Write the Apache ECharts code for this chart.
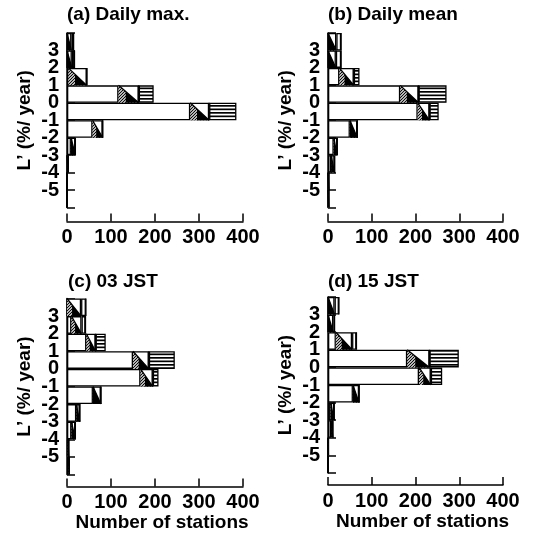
<!DOCTYPE html>
<html><head><meta charset="utf-8">
<script src="https://cdn.jsdelivr.net/npm/echarts@6/dist/echarts.min.js"></script>
<style>html,body{margin:0;padding:0;background:#fff}#c{width:533px;height:535px}</style>
</head><body><div id="c"></div>
<script>
// L' classes (bins between the y ticks), top to bottom
const bins = ['3 to 4','2 to 3','1 to 2','0 to 1','-1 to 0','-2 to -1','-3 to -2','-4 to -3','-5 to -4','-6 to -5'];
const yTickLabels = ['3','2','1','0','-1','-2','-3','-4','-5'];
const xTickLabels = ['0','100','200','300','400'];
const titles = ['(a) Daily max.','(b) Daily mean','(c) 03 JST','(d) 15 JST'];
const yName = 'L\u2019 (%/ year)';
const xName = 'Number of stations';

// (a) Daily max.
const aWhite   = [0, 0, 3, 117, 280, 58, 9, 0, 0, 0];
const aDiag    = [10, 11, 42, 46, 43, 23, 10, 3, 0, 0];
const aWhite2  = [5, 6, 0, 0, 0, 0, 0, 0, 0, 0];
const aStripes = [0, 0, 0, 34, 62, 0, 0, 0, 0, 0];
// (b) Daily mean
const bWhite   = [0, 0, 26, 165, 205, 50, 13, 7, 0, 0];
const bDiag    = [19, 18, 33, 42, 27, 17, 8, 8, 2, 2];
const bWhite2  = [11, 12, 0, 0, 0, 0, 0, 0, 0, 0];
const bStripes = [0, 0, 13, 64, 21, 0, 0, 0, 0, 0];
// (c) 03 JST
const cWhite   = [0, 10, 44, 150, 167, 59, 21, 10, 2, 3];
const cDiag    = [32, 23, 21, 36, 28, 18, 8, 9, 2, 2];
const cWhite2  = [11, 9, 0, 0, 0, 0, 0, 0, 0, 0];
const cStripes = [0, 0, 23, 59, 13, 0, 0, 0, 0, 0];
// (d) 15 JST
const dWhite   = [0, 0, 18, 181, 208, 57, 6, 7, 0, 0];
const dDiag    = [15, 12, 37, 51, 27, 14, 8, 4, 1, 0];
const dWhite2  = [10, 3, 10, 0, 0, 0, 0, 0, 0, 0];
const dStripes = [0, 0, 0, 67, 26, 0, 0, 0, 0, 0];

const panels = [
  {white:aWhite, diag:aDiag, white2:aWhite2, stripes:aStripes},
  {white:bWhite, diag:bDiag, white2:bWhite2, stripes:bStripes},
  {white:cWhite, diag:cDiag, white2:cWhite2, stripes:cStripes},
  {white:dWhite, diag:dDiag, white2:dWhite2, stripes:dStripes}
];

// layout
const grids = [
  {left:67, top:33, width:176, height:174.5},
  {left:328, top:33, width:175, height:174.5},
  {left:67, top:298.5, width:176, height:176},
  {left:328, top:297, width:175, height:176}
];
const xOffsets = [14, 14, 12, 12];
const titlePos = [{left:67, top:5}, {left:328, top:5}, {left:68, top:272}, {left:328, top:272}];

const FONT = '"Liberation Sans", Arial, Helvetica, sans-serif';
const txt = {color:'#000', fontFamily:FONT, fontSize:19, fontWeight:'bold'};
const tickTxt = {color:'#000', fontFamily:FONT, fontSize:20, fontWeight:'bold'};

function makeCanvas(w, h, draw){
  const c = document.createElement('canvas'); c.width = w; c.height = h;
  const g = c.getContext('2d'); draw(g, w, h); return c;
}
const stripeCanvas = makeCanvas(6, 7, (g,w,h)=>{
  g.fillStyle='#fff'; g.fillRect(0,0,w,h);
  g.fillStyle='#000'; g.fillRect(0,0,w,1.7); g.fillRect(0,3.5,w,1.7);
});
const hatchCanvas = makeCanvas(3, 3, (g,w,h)=>{
  g.fillStyle='#fff'; g.fillRect(0,0,w,h);
  g.strokeStyle='#000'; g.lineWidth=1.1;
  g.beginPath(); g.moveTo(-1,4); g.lineTo(4,-1); g.stroke();
  g.beginPath(); g.moveTo(-1,1); g.lineTo(1,-1); g.stroke();
  g.beginPath(); g.moveTo(2,4); g.lineTo(4,2); g.stroke();
});
const stripePattern = {image: stripeCanvas, repeat: 'repeat'};
const hatchPattern = {image: hatchCanvas, repeat: 'repeat'};

function diagItem(params, api){
  const x0 = api.value(0), x1 = api.value(1), idx = api.value(2);
  const p0 = api.coord([x0, idx]); const p1 = api.coord([x1, idx]);
  const h = api.size([0, 1])[1];
  const top = p0[1] - h/2, bot = p0[1] + h/2;
  const L = p0[0], R = p1[0];
  const f = (R - L) < 9 ? 0 : 0.36;
  const mx = L + (R-L)*f, my = top + h*f;
  return {type:'group', children:[
    {type:'polygon', shape:{points:[[L,top],[L,bot],[R,bot]]}, style:{fill:hatchPattern}},
    {type:'polygon', shape:{points:[[mx,my],[mx,bot],[R,bot]]}, style:{fill:'#000'}},
    {type:'line', shape:{x1:L,y1:top,x2:R,y2:bot}, style:{stroke:'#000', lineWidth:1.3}}
  ]};
}

const option = {
  backgroundColor:'#fff',
  animation:false,
  title: titles.map((t,i)=>({text:t, left:titlePos[i].left, top:titlePos[i].top, padding:0,
    textStyle:txt})),
  grid: grids,
  xAxis: [], yAxis: [], series: []
};

panels.forEach((p, i) => {
  option.xAxis.push({
    type:'value', gridIndex:i, min:0, max:400, interval:100, position:'bottom', offset:xOffsets[i],
    axisLine:{show:true, onZero:false, lineStyle:{color:'#000', width:1.5}},
    axisTick:{show:true, inside:true, length:8, lineStyle:{color:'#000', width:1.5}},
    axisLabel:Object.assign({margin:6, formatter:v=>xTickLabels.includes(String(v))?String(v):''}, tickTxt),
    splitLine:{show:false},
    name: i >= 2 ? xName : '', nameLocation:'middle', nameGap:27,
    nameTextStyle:Object.assign({padding:[0,0,0,14]}, txt)
  });
  option.yAxis.push({
    type:'category', gridIndex:i, data:bins, inverse:true, show:false
  });
  option.yAxis.push({
    type:'value', gridIndex:i, min:-6, max:4, interval:1, position:'left',
    axisLine:{show:true, onZero:false, lineStyle:{color:'#000', width:1.5}},
    axisTick:{show:true, inside:true, length:8, lineStyle:{color:'#000', width:1.5}},
    axisLabel:Object.assign({margin:8, formatter:v=>yTickLabels.includes(String(v))?String(v):''}, tickTxt),
    splitLine:{show:false},
    name:yName, nameLocation:'middle', nameRotate:90, nameGap:33,
    nameTextStyle:txt
  });
  const base = {type:'bar', xAxisIndex:i, yAxisIndex:2*i, stack:'s'+i, barWidth:'100%', barCategoryGap:'0%',
    itemStyle:{color:'#fff', borderColor:'#000', borderWidth:1.3}, silent:true};
  option.series.push(Object.assign({}, base, {name:'white', data:p.white}));
  option.series.push(Object.assign({}, base, {name:'diag', data:p.diag}));
  option.series.push(Object.assign({}, base, {name:'white2', data:p.white2}));
  option.series.push(Object.assign({}, base, {name:'stripes', data:p.stripes,
    itemStyle:{color:stripePattern, borderColor:'#000', borderWidth:1.3}}));
  const dd = [];
  p.diag.forEach((v, k) => { if (v > 0) dd.push([p.white[k], p.white[k] + v, k]); });
  option.series.push({type:'custom', xAxisIndex:i, yAxisIndex:2*i, z:3, silent:true,
    renderItem:diagItem, encode:{x:[0,1], y:2}, data:dd});
});

const chart = echarts.init(document.getElementById('c'), null, {renderer:'canvas'});
chart.setOption(option);
</script>
</body></html>
